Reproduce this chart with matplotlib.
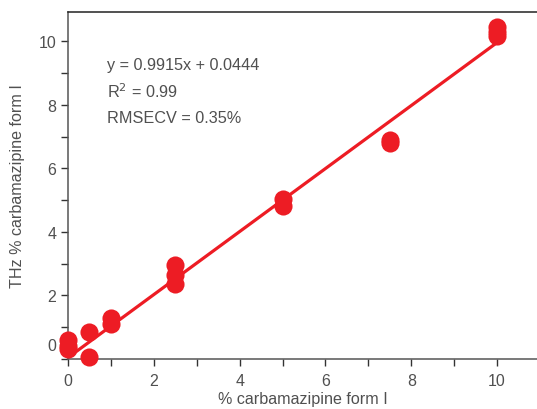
import matplotlib
matplotlib.use("Agg")
import matplotlib.pyplot as plt
import matplotlib.transforms as mtransforms
import numpy as np

plt.rcParams['font.family'] = ['Liberation Sans', 'DejaVu Sans']

# reference vs THz predicted % form I
x_ref = [0, 0, 0, 0.5, 0.5, 1, 1, 2.5, 2.5, 2.5, 5, 5, 7.5, 7.5, 10, 10, 10]
y_thz = [0.6, 0.3, 0.4, 0.85, 0.07, 1.3, 1.1, 2.95, 2.65, 2.35, 5.05, 4.8, 6.9, 6.8, 10.45, 10.15, 10.3]

slope = 0.9915
intercept = 0.0444
fit_x = [0, 10]

red = '#ed1c24'
txt = '#505050'

fig = plt.figure(figsize=(5.37, 4.10), dpi=100)
ax = fig.add_axes([68/537, 50/410, 1 - 68/537, (360 - 13)/410])

ax.scatter(x_ref, y_thz, s=170, color=red, zorder=3, clip_on=False, linewidths=0)
fx = np.array(fit_x)
ax.plot(fx, slope*fx + intercept, color=red, lw=2.3, zorder=2)

ax.set_xlim(0, 10.93)
ax.set_ylim(0, 10.92)
ax.set_xticks([0, 2, 4, 6, 8, 10])
ax.set_xticks(np.arange(1, 11, 2), minor=True)
ax.set_yticks([0, 2, 4, 6, 8, 10])
ax.set_yticks(np.arange(1, 11, 2), minor=True)

ax.spines['right'].set_visible(False)
for s in ['left', 'bottom', 'top']:
    ax.spines[s].set_color('#555555')
    ax.spines[s].set_linewidth(1.1)
ax.spines['top'].set_color('#222222')

ax.tick_params(which='both', direction='out', length=5, width=1, color='#333333',
               labelsize=11.5, labelcolor=txt)
ax.tick_params(axis='x', pad=5)

# lift the y "0" label above the x-axis labels
lbl0 = ax.get_yticklabels()[0]
lbl0.set_transform(lbl0.get_transform() + mtransforms.ScaledTranslation(0, 15/100, fig.dpi_scale_trans))

ax.set_xlabel('% carbamazipine form I', fontsize=11.6, color=txt, labelpad=2)
ax.set_ylabel('THz % carbamazipine form I', fontsize=11.6, color=txt, labelpad=10)

ax.text(0.083, 0.85, 'y = 0.9915x + 0.0444', transform=ax.transAxes, fontsize=11.7, color=txt, va='center')
ax.text(0.083, 0.772, 'R$^2$ = 0.99', transform=ax.transAxes, fontsize=11.7, color=txt, va='center')
ax.text(0.083, 0.697, 'RMSECV = 0.35%', transform=ax.transAxes, fontsize=11.7, color=txt, va='center')

fig.savefig('out.png', dpi=100)
